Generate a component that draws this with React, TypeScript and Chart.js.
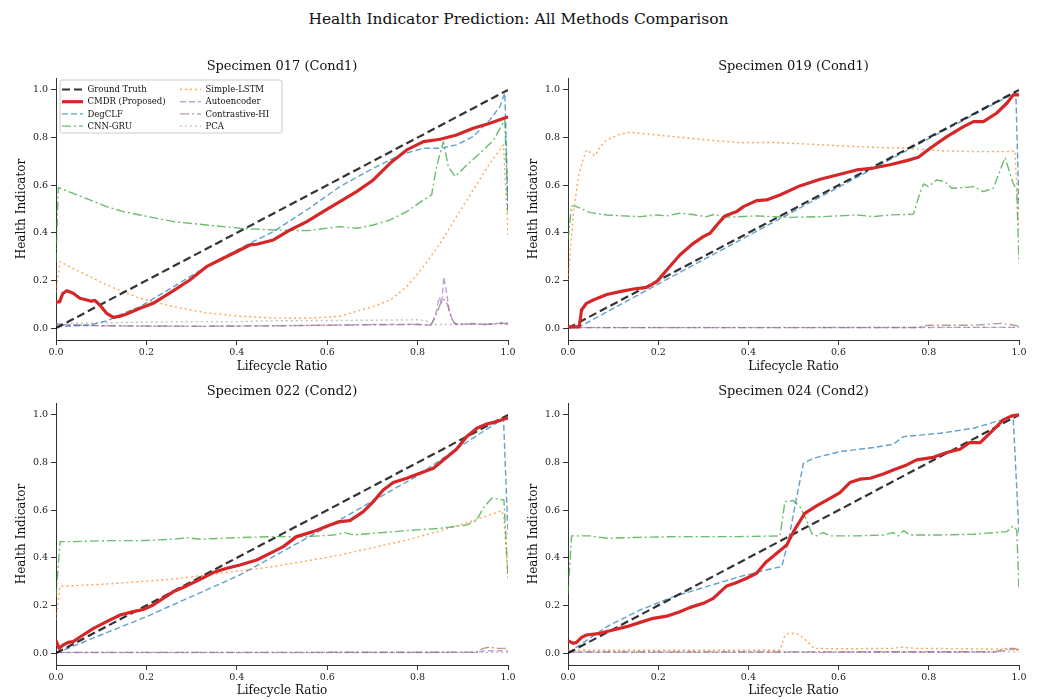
import React, { useEffect, useRef } from "react";
import { Chart, registerables } from "chart.js";

Chart.register(...registerables);

type Pt = [number, number];

const FONT = "'DejaVu Serif', 'Liberation Serif', serif";

const SUPTITLE = "Health Indicator Prediction: All Methods Comparison";
const X_LABEL = "Lifecycle Ratio";
const Y_LABEL = "Health Indicator";
const X_TICKS = [0, 0.2, 0.4, 0.6, 0.8, 1.0];
const Y_TICKS = [0, 0.2, 0.4, 0.6, 0.8, 1.0];

const METHOD_LABELS = [
  "Ground Truth",
  "CMDR (Proposed)",
  "DegCLF",
  "CNN-GRU",
  "Simple-LSTM",
  "Autoencoder",
  "Contrastive-HI",
  "PCA",
];

// ---------- Specimen 017 (Cond1) ----------
const s017Truth: Pt[] = [[0, 0], [1, 1]];
const s017Cmdr: Pt[] = [
  [0, 0.11], [0.008, 0.11], [0.015, 0.145], [0.024, 0.157], [0.038, 0.146], [0.053, 0.125],
  [0.068, 0.118], [0.078, 0.113], [0.086, 0.116], [0.097, 0.097], [0.112, 0.062], [0.127, 0.045],
  [0.142, 0.05], [0.156, 0.059], [0.186, 0.083], [0.215, 0.104], [0.26, 0.157], [0.296, 0.202],
  [0.333, 0.258], [0.37, 0.293], [0.407, 0.328], [0.429, 0.349], [0.444, 0.352], [0.481, 0.37],
  [0.518, 0.412], [0.555, 0.447], [0.591, 0.489], [0.628, 0.531], [0.665, 0.573], [0.702, 0.622],
  [0.739, 0.692], [0.776, 0.748], [0.813, 0.783], [0.85, 0.793], [0.886, 0.811], [0.923, 0.839],
  [0.96, 0.86], [0.997, 0.885], [1, 0.885],
];
const s017DegClf: Pt[] = [
  [0, 0.005], [0.075, 0.013], [0.112, 0.03], [0.149, 0.062], [0.186, 0.09], [0.223, 0.132],
  [0.26, 0.174], [0.333, 0.258], [0.407, 0.335], [0.481, 0.405], [0.555, 0.496], [0.628, 0.594],
  [0.702, 0.671], [0.761, 0.727], [0.813, 0.755], [0.85, 0.755], [0.886, 0.769], [0.923, 0.804],
  [0.96, 0.874], [0.982, 0.93], [0.993, 0.986], [1, 0.5],
];
const s017CnnGru: Pt[] = [
  [0, 0.28], [0.005, 0.59], [0.038, 0.566], [0.075, 0.538], [0.112, 0.51], [0.149, 0.489],
  [0.186, 0.475], [0.26, 0.447], [0.333, 0.433], [0.407, 0.419], [0.481, 0.412], [0.555, 0.409],
  [0.628, 0.426], [0.665, 0.419], [0.702, 0.433], [0.739, 0.454], [0.776, 0.489], [0.813, 0.538],
  [0.831, 0.559], [0.842, 0.678], [0.857, 0.783], [0.868, 0.678], [0.883, 0.636], [0.909, 0.685],
  [0.938, 0.734], [0.968, 0.79], [0.993, 0.874], [1, 0.48],
];
const s017Lstm: Pt[] = [
  [0, 0.15], [0.009, 0.279], [0.038, 0.25], [0.075, 0.216], [0.112, 0.181], [0.149, 0.153],
  [0.186, 0.125], [0.26, 0.09], [0.333, 0.064], [0.407, 0.05], [0.481, 0.042], [0.555, 0.041],
  [0.628, 0.05], [0.702, 0.09], [0.739, 0.118], [0.776, 0.174], [0.813, 0.258], [0.85, 0.356],
  [0.886, 0.468], [0.923, 0.58], [0.96, 0.692], [0.99, 0.769], [1, 0.39],
];
const s017Autoenc: Pt[] = [
  [0, 0.02], [0.03, 0.012], [0.1, 0.01], [0.2, 0.008], [0.3, 0.007], [0.4, 0.008], [0.5, 0.01],
  [0.6, 0.012], [0.7, 0.015], [0.8, 0.016], [0.83, 0.012], [0.84, 0.06], [0.848, 0.13],
  [0.853, 0.1], [0.858, 0.215], [0.864, 0.15], [0.87, 0.07], [0.88, 0.02], [0.9, 0.015],
  [0.92, 0.02], [0.95, 0.015], [0.98, 0.02], [0.99, 0.025], [1, 0.02],
];
const s017Contrast: Pt[] = [
  [0, 0.015], [0.1, 0.01], [0.3, 0.008], [0.5, 0.01], [0.7, 0.014], [0.8, 0.015], [0.83, 0.013],
  [0.84, 0.05], [0.85, 0.1], [0.858, 0.12], [0.866, 0.1], [0.875, 0.04], [0.885, 0.015],
  [0.9, 0.018], [0.95, 0.015], [0.99, 0.02], [1, 0.015],
];
const s017Pca: Pt[] = [
  [0, 0.01], [0.03, 0.02], [0.1, 0.022], [0.2, 0.025], [0.3, 0.027], [0.4, 0.027], [0.45, 0.03],
  [0.6, 0.032], [0.7, 0.033], [0.8, 0.035], [0.82, 0.03], [0.835, 0.015], [0.9, 0.015], [1, 0.02],
];

// ---------- Specimen 019 (Cond1) ----------
const s019Truth: Pt[] = [[0, 0], [1, 1]];
const s019Cmdr: Pt[] = [
  [0, 0.005], [0.025, 0.005], [0.03, 0.076], [0.041, 0.104], [0.056, 0.118], [0.086, 0.141],
  [0.115, 0.153], [0.145, 0.164], [0.174, 0.171], [0.197, 0.195], [0.219, 0.244], [0.248, 0.307],
  [0.278, 0.356], [0.3, 0.384], [0.315, 0.398], [0.33, 0.433], [0.348, 0.471], [0.374, 0.489],
  [0.389, 0.51], [0.418, 0.535], [0.44, 0.538], [0.47, 0.559], [0.514, 0.597], [0.559, 0.625],
  [0.603, 0.646], [0.64, 0.664], [0.677, 0.672], [0.714, 0.686], [0.751, 0.703], [0.777, 0.717],
  [0.803, 0.755], [0.84, 0.804], [0.877, 0.846], [0.899, 0.867], [0.921, 0.867], [0.95, 0.902],
  [0.973, 0.944], [0.987, 0.979], [1, 0.979],
];
const s019DegClf: Pt[] = [
  [0, 0.0], [0.03, 0.01], [0.2, 0.185], [0.5, 0.49], [0.8, 0.795], [0.993, 0.99], [1, 0.5],
];
const s019CnnGru: Pt[] = [
  [0, 0.37], [0.008, 0.513], [0.019, 0.51], [0.049, 0.485], [0.086, 0.475], [0.123, 0.471],
  [0.16, 0.468], [0.197, 0.475], [0.219, 0.471], [0.248, 0.482], [0.271, 0.478], [0.307, 0.468],
  [0.326, 0.478], [0.344, 0.465], [0.418, 0.471], [0.492, 0.465], [0.566, 0.468], [0.64, 0.475],
  [0.677, 0.468], [0.714, 0.475], [0.766, 0.478], [0.78, 0.566], [0.788, 0.605], [0.799, 0.594],
  [0.817, 0.622], [0.836, 0.615], [0.851, 0.587], [0.884, 0.591], [0.899, 0.594], [0.921, 0.573],
  [0.943, 0.587], [0.969, 0.716], [0.987, 0.608], [0.995, 0.58], [1, 0.272],
];
const s019Lstm: Pt[] = [
  [0, 0.2], [0.012, 0.48], [0.023, 0.636], [0.034, 0.713], [0.041, 0.748], [0.049, 0.737],
  [0.06, 0.723], [0.071, 0.762], [0.086, 0.79], [0.115, 0.814], [0.137, 0.822], [0.16, 0.818],
  [0.234, 0.804], [0.307, 0.79], [0.381, 0.779], [0.455, 0.779], [0.529, 0.773], [0.603, 0.765],
  [0.677, 0.759], [0.751, 0.755], [0.825, 0.745], [0.899, 0.741], [0.973, 0.741], [0.991, 0.744],
  [1, 0.41],
];
const s019Autoenc: Pt[] = [[0, 0.002], [0.5, 0.002], [0.9, 0.003], [1, 0.003]];
const s019Contrast: Pt[] = [
  [0, 0.002], [0.77, 0.002], [0.8, 0.012], [0.9, 0.012], [0.96, 0.02], [0.98, 0.015], [1, 0.008],
];
const s019Pca: Pt[] = [[0, 0.003], [0.5, 0.003], [1, 0.003]];

// ---------- Specimen 022 (Cond2) ----------
const s022Truth: Pt[] = [[0, 0], [1, 1]];
const s022Cmdr: Pt[] = [
  [0, 0.052], [0.007, 0.02], [0.016, 0.034], [0.027, 0.045], [0.038, 0.048], [0.06, 0.076],
  [0.083, 0.104], [0.112, 0.132], [0.142, 0.16], [0.171, 0.174], [0.193, 0.183], [0.215, 0.202],
  [0.237, 0.23], [0.26, 0.258], [0.289, 0.282], [0.319, 0.31], [0.348, 0.338], [0.378, 0.356],
  [0.407, 0.37], [0.444, 0.391], [0.481, 0.426], [0.503, 0.447], [0.532, 0.489], [0.569, 0.51],
  [0.606, 0.538], [0.628, 0.552], [0.65, 0.556], [0.68, 0.594], [0.702, 0.636], [0.724, 0.685],
  [0.746, 0.716], [0.776, 0.734], [0.805, 0.755], [0.835, 0.776], [0.857, 0.811], [0.886, 0.856],
  [0.909, 0.909], [0.931, 0.944], [0.953, 0.962], [0.975, 0.972], [0.997, 0.986], [1, 0.986],
];
const s022DegClf: Pt[] = [
  [0, 0], [0.2, 0.153], [0.407, 0.328], [0.6, 0.53], [0.8, 0.745], [0.9, 0.875], [0.99, 0.985],
  [1, 0.5],
];
const s022CnnGru: Pt[] = [
  [0, 0.237], [0.009, 0.468], [0.038, 0.468], [0.112, 0.472], [0.186, 0.472], [0.26, 0.478],
  [0.289, 0.485], [0.319, 0.478], [0.407, 0.485], [0.481, 0.489], [0.555, 0.489], [0.614, 0.496],
  [0.639, 0.506], [0.658, 0.496], [0.702, 0.503], [0.776, 0.514], [0.85, 0.524], [0.909, 0.538],
  [0.931, 0.559], [0.945, 0.608], [0.964, 0.65], [0.979, 0.646], [0.991, 0.643], [1, 0.32],
];
const s022Lstm: Pt[] = [
  [0, 0.14], [0.009, 0.28], [0.038, 0.283], [0.112, 0.29], [0.186, 0.3], [0.26, 0.311],
  [0.333, 0.328], [0.407, 0.346], [0.481, 0.363], [0.555, 0.387], [0.628, 0.412], [0.702, 0.443],
  [0.776, 0.475], [0.85, 0.513], [0.923, 0.556], [0.986, 0.598], [0.991, 0.573], [1, 0.307],
];
const s022Autoenc: Pt[] = [[0, 0.002], [0.5, 0.002], [0.93, 0.003], [0.95, 0.01], [1, 0.01]];
const s022Contrast: Pt[] = [
  [0, 0.003], [0.5, 0.003], [0.93, 0.004], [0.945, 0.02], [0.96, 0.025], [0.975, 0.02],
  [0.99, 0.02], [1, 0.018],
];
const s022Pca: Pt[] = [[0, 0.003], [0.5, 0.003], [1, 0.003]];

// ---------- Specimen 024 (Cond2) ----------
const s024Truth: Pt[] = [[0, 0], [1, 1]];
const s024Cmdr: Pt[] = [
  [0, 0.052], [0.012, 0.041], [0.019, 0.045], [0.03, 0.066], [0.041, 0.076], [0.071, 0.083],
  [0.1, 0.097], [0.13, 0.111], [0.16, 0.129], [0.189, 0.146], [0.219, 0.155], [0.248, 0.174],
  [0.271, 0.192], [0.3, 0.209], [0.322, 0.23], [0.352, 0.282], [0.374, 0.296], [0.396, 0.314],
  [0.418, 0.335], [0.44, 0.384], [0.463, 0.419], [0.485, 0.454], [0.5, 0.51], [0.525, 0.587],
  [0.551, 0.618], [0.581, 0.65], [0.603, 0.674], [0.625, 0.716], [0.647, 0.73], [0.67, 0.734],
  [0.699, 0.752], [0.721, 0.769], [0.751, 0.79], [0.773, 0.811], [0.81, 0.822], [0.84, 0.842],
  [0.869, 0.856], [0.891, 0.884], [0.914, 0.884], [0.943, 0.937], [0.965, 0.979], [0.984, 0.996],
  [1, 1.0],
];
const s024DegClf: Pt[] = [
  [0, 0], [0.086, 0.111], [0.16, 0.181], [0.234, 0.237], [0.307, 0.279], [0.381, 0.321],
  [0.455, 0.356], [0.474, 0.363], [0.489, 0.475], [0.503, 0.615], [0.522, 0.797], [0.544, 0.818],
  [0.603, 0.846], [0.677, 0.863], [0.721, 0.877], [0.744, 0.909], [0.825, 0.923], [0.899, 0.944],
  [0.987, 0.993], [1, 0.503],
];
const s024CnnGru: Pt[] = [
  [0, 0.25], [0.008, 0.492], [0.049, 0.492], [0.086, 0.482], [0.16, 0.486], [0.234, 0.489],
  [0.307, 0.489], [0.381, 0.489], [0.47, 0.492], [0.481, 0.636], [0.5, 0.64], [0.514, 0.615],
  [0.529, 0.559], [0.54, 0.503], [0.551, 0.492], [0.566, 0.506], [0.581, 0.492], [0.64, 0.492],
  [0.699, 0.496], [0.721, 0.506], [0.732, 0.492], [0.744, 0.514], [0.758, 0.496], [0.825, 0.496],
  [0.899, 0.499], [0.973, 0.51], [0.987, 0.534], [0.995, 0.517], [1, 0.265],
];
const s024Lstm: Pt[] = [
  [0, 0.012], [0.47, 0.012], [0.48, 0.07], [0.49, 0.085], [0.51, 0.08], [0.53, 0.05],
  [0.545, 0.02], [0.6, 0.018], [0.72, 0.02], [0.74, 0.025], [0.77, 0.02], [0.9, 0.018],
  [1, 0.015],
];
const s024Autoenc: Pt[] = [[0, 0.003], [0.5, 0.003], [0.95, 0.004], [0.98, 0.015], [1, 0.015]];
const s024Contrast: Pt[] = [
  [0, 0.005], [0.5, 0.005], [0.95, 0.006], [0.97, 0.02], [0.99, 0.02], [1, 0.01],
];
const s024Pca: Pt[] = [[0, 0.005], [0.5, 0.005], [1, 0.005]];

// Line style per method: colour, width, dash pattern, draw order (lower = on top)
const METHOD_STYLES = [
  { color: "rgba(0,0,0,0.8)", width: 2.2, dash: [8, 4], order: 1 },
  { color: "#d62728", width: 3.2, dash: [] as number[], order: 0 },
  { color: "rgba(31,119,180,0.7)", width: 1.4, dash: [6, 3], order: 2 },
  { color: "rgba(44,160,44,0.7)", width: 1.4, dash: [9, 3, 2, 3], order: 3 },
  { color: "rgba(255,127,14,0.7)", width: 1.4, dash: [2, 3], order: 4 },
  { color: "rgba(148,103,189,0.6)", width: 1.4, dash: [6, 3], order: 5 },
  { color: "rgba(140,86,75,0.6)", width: 1.4, dash: [9, 3, 2, 3], order: 6 },
  { color: "rgba(127,127,127,0.5)", width: 1.4, dash: [2, 3], order: 7 },
];

const PANELS = [
  {
    title: "Specimen 017 (Cond1)",
    series: [s017Truth, s017Cmdr, s017DegClf, s017CnnGru, s017Lstm, s017Autoenc, s017Contrast, s017Pca],
    legend: true,
    box: { left: 0, top: 53, width: 518, height: 325, padRight: 10, xAxisH: 38, xTitlePad: 4 },
  },
  {
    title: "Specimen 019 (Cond1)",
    series: [s019Truth, s019Cmdr, s019DegClf, s019CnnGru, s019Lstm, s019Autoenc, s019Contrast, s019Pca],
    legend: false,
    box: { left: 512, top: 53, width: 525, height: 325, padRight: 18, xAxisH: 38, xTitlePad: 4 },
  },
  {
    title: "Specimen 022 (Cond2)",
    series: [s022Truth, s022Cmdr, s022DegClf, s022CnnGru, s022Lstm, s022Autoenc, s022Contrast, s022Pca],
    legend: false,
    box: { left: 0, top: 378, width: 518, height: 322, padRight: 10, xAxisH: 35, xTitlePad: 2 },
  },
  {
    title: "Specimen 024 (Cond2)",
    series: [s024Truth, s024Cmdr, s024DegClf, s024CnnGru, s024Lstm, s024Autoenc, s024Contrast, s024Pca],
    legend: false,
    box: { left: 512, top: 378, width: 525, height: 322, padRight: 18, xAxisH: 35, xTitlePad: 2 },
  },
];

// Two-column legend box in the upper-left corner of the plot area
const cornerLegend = {
  id: "cornerLegend",
  afterDatasetsDraw(chart: any) {
    const { ctx, chartArea } = chart;
    const bx = chartArea.left + 4;
    const by = chartArea.top + 2;
    const bw = 222;
    const bh = 53;
    ctx.save();
    ctx.beginPath();
    const r = 2;
    ctx.moveTo(bx + r, by);
    ctx.lineTo(bx + bw - r, by);
    ctx.quadraticCurveTo(bx + bw, by, bx + bw, by + r);
    ctx.lineTo(bx + bw, by + bh - r);
    ctx.quadraticCurveTo(bx + bw, by + bh, bx + bw - r, by + bh);
    ctx.lineTo(bx + r, by + bh);
    ctx.quadraticCurveTo(bx, by + bh, bx, by + bh - r);
    ctx.lineTo(bx, by + r);
    ctx.quadraticCurveTo(bx, by, bx + r, by);
    ctx.closePath();
    ctx.fillStyle = "rgba(255,255,255,0.8)";
    ctx.fill();
    ctx.strokeStyle = "#cccccc";
    ctx.lineWidth = 1;
    ctx.stroke();

    ctx.font = `8.5px ${FONT}`;
    ctx.textBaseline = "middle";
    ctx.textAlign = "left";
    chart.data.datasets.forEach((ds: any, i: number) => {
      const col = Math.floor(i / 4);
      const row = i % 4;
      const lx = bx + 2 + col * 118;
      const ly = by + 9.5 + row * 12.2;
      ctx.beginPath();
      ctx.setLineDash(ds.borderDash || []);
      ctx.strokeStyle = ds.borderColor;
      ctx.lineWidth = ds.borderWidth;
      ctx.moveTo(lx, ly);
      ctx.lineTo(lx + 21, ly);
      ctx.stroke();
      ctx.setLineDash([]);
      ctx.fillStyle = "#111";
      ctx.fillText(ds.label, lx + 25.5, ly + 0.5);
    });
    ctx.restore();
  },
};

function Panel({ panel }: { panel: (typeof PANELS)[number] }) {
  const ref = useRef<HTMLCanvasElement | null>(null);
  useEffect(() => {
    if (!ref.current) return;
    const b = panel.box;
    const chart = new Chart(ref.current, {
      type: "line",
      data: {
        datasets: METHOD_LABELS.map((label, i) => ({
          label,
          data: panel.series[i] as any,
          borderColor: METHOD_STYLES[i].color,
          borderWidth: METHOD_STYLES[i].width,
          borderDash: METHOD_STYLES[i].dash,
          order: METHOD_STYLES[i].order,
          pointRadius: 0,
          tension: 0,
          fill: false,
          borderCapStyle: "butt",
          borderJoinStyle: "round",
        })),
      },
      options: {
        animation: false,
        responsive: false,
        maintainAspectRatio: false,
        devicePixelRatio: 1,
        events: [],
        layout: { padding: { left: 0, right: b.padRight, top: 0, bottom: 0 } },
        plugins: {
          legend: { display: false },
          tooltip: { enabled: false },
          title: {
            display: true,
            fullSize: false,
            text: panel.title,
            color: "#111",
            font: { family: FONT, size: 13, weight: "normal", lineHeight: "16px" } as any,
            padding: { top: 6, bottom: 3 },
          },
        },
        scales: {
          x: {
            type: "linear",
            min: 0,
            max: 1,
            afterBuildTicks: (s: any) => {
              s.ticks = X_TICKS.map((v) => ({ value: v }));
            },
            afterFit: (s: any) => {
              s.height = b.xAxisH;
              s.paddingLeft = 0;
              s.paddingRight = 0;
            },
            ticks: {
              callback: (v: any) => Number(v).toFixed(1),
              font: { family: FONT, size: 9.5 },
              color: "#222",
              padding: 2,
              maxRotation: 0,
              autoSkip: false,
            },
            grid: {
              display: true,
              drawOnChartArea: false,
              drawTicks: true,
              tickLength: 5,
              tickColor: "#333",
              tickWidth: 1,
            },
            border: { display: true, color: "#333", width: 1 },
            title: {
              display: true,
              text: X_LABEL,
              color: "#111",
              font: { family: FONT, size: 12, lineHeight: "14px" } as any,
              padding: { top: 0, bottom: b.xTitlePad },
            },
          },
          y: {
            type: "linear",
            min: -0.05,
            max: 1.05,
            afterBuildTicks: (s: any) => {
              s.ticks = Y_TICKS.map((v) => ({ value: v }));
            },
            afterFit: (s: any) => {
              s.width = 56;
              s.paddingTop = 0;
              s.paddingBottom = 0;
            },
            ticks: {
              callback: (v: any) => Number(v).toFixed(1),
              font: { family: FONT, size: 9.5 },
              color: "#222",
              padding: 3,
              autoSkip: false,
            },
            grid: {
              display: true,
              drawOnChartArea: false,
              drawTicks: true,
              tickLength: 5,
              tickColor: "#333",
              tickWidth: 1,
            },
            border: { display: true, color: "#333", width: 1 },
            title: {
              display: true,
              text: Y_LABEL,
              color: "#111",
              font: { family: FONT, size: 12, lineHeight: "14px" } as any,
              padding: { top: 15, bottom: 0 },
            },
          },
        },
      },
      plugins: panel.legend ? [cornerLegend] : [],
    } as any);
    return () => chart.destroy();
  }, [panel]);

  const b = panel.box;
  return (
    <canvas
      ref={ref}
      width={b.width}
      height={b.height}
      style={{ position: "absolute", left: b.left, top: b.top, width: b.width, height: b.height }}
    />
  );
}

export default function App() {
  return (
    <div
      style={{
        position: "absolute",
        left: 0,
        top: 0,
        width: 1037,
        height: 700,
        background: "#fff",
        overflow: "hidden",
      }}
    >
      <div
        style={{
          position: "absolute",
          left: 0,
          top: 0,
          width: 1037,
          textAlign: "center",
          fontFamily: FONT,
          fontSize: 15.5,
          lineHeight: "38px",
          color: "#111",
        }}
      >
        {SUPTITLE}
      </div>
      {PANELS.map((p) => (
        <Panel key={p.title} panel={p} />
      ))}
    </div>
  );
}
